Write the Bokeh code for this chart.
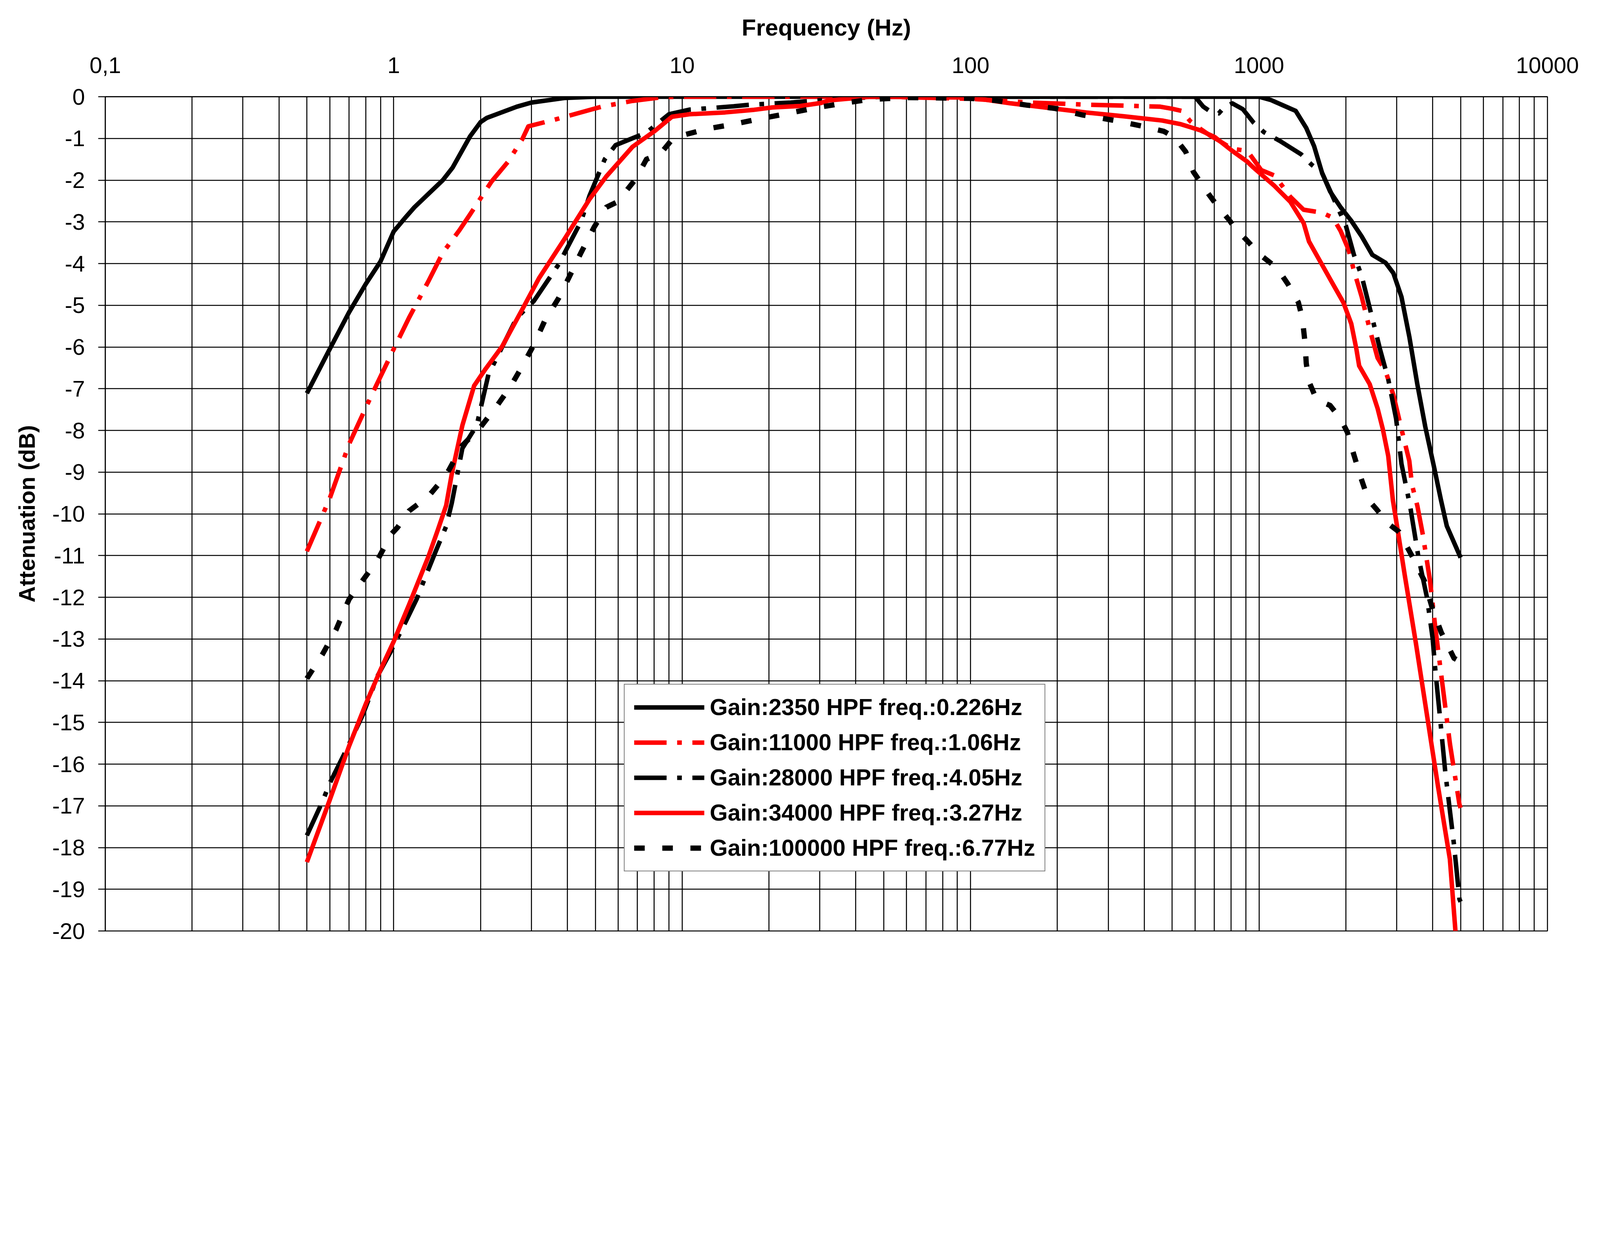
from bokeh.plotting import figure
from bokeh.models import Range1d, FixedTicker, Legend, LegendItem
from bokeh.embed import file_html
from bokeh.resources import INLINE

# ---------------- data ----------------
x_tick_values = [0.1, 1, 10, 100, 1000, 10000]
x_tick_labels = ["0,1", "1", "10", "100", "1000", "10000"]
y_tick_values = list(range(-20, 1))
y_tick_labels = [str(v) for v in y_tick_values]

series_labels = [
    "Gain:2350 HPF freq.:0.226Hz",
    "Gain:11000 HPF freq.:1.06Hz",
    "Gain:28000 HPF freq.:4.05Hz",
    "Gain:34000 HPF freq.:3.27Hz",
    "Gain:100000 HPF freq.:6.77Hz",
]

freq_2350 = [0.5, 0.6, 0.7, 0.8, 0.9, 1.0, 1.1, 1.18, 1.48, 1.6, 1.84, 2.0, 2.1, 2.67, 3.0, 3.9, 5.0,
             100, 1000, 1100, 1340, 1458, 1553, 1655, 1763, 1918, 2086, 2270, 2470, 2746, 2923,
             3118, 3319, 3538, 3770, 4056, 4274, 4477, 5000]
att_2350 = [-7.11, -6.05, -5.17, -4.49, -3.95, -3.23, -2.89, -2.65, -2.0, -1.70, -0.95, -0.61, -0.51,
            -0.24, -0.14, -0.03, 0.0, 0.0, 0.0, -0.08, -0.34, -0.75, -1.19, -1.83, -2.27, -2.65,
            -2.97, -3.35, -3.79, -3.98, -4.23, -4.8, -5.75, -6.89, -7.91, -8.92, -9.67, -10.29, -11.05]

freq_11000 = [0.5, 0.6, 0.7, 0.84, 1.0, 1.13, 1.32, 1.48, 1.69, 1.84, 2.18, 2.49, 2.79, 2.93, 3.66,
              4.28, 5.25, 6.73, 8.6, 10, 50, 100, 161, 250, 368, 455, 500, 540, 578, 623, 673, 725,
              808, 870, 916, 1018, 1132, 1284, 1428, 1655, 1803, 1918, 2042, 2133, 2270, 2417, 2576,
              2746, 2923, 3118, 3319, 3390, 3540, 3698, 3915, 4092, 4335, 4592, 4954, 5000]
att_11000 = [-10.9, -9.63, -8.33, -7.14, -6.05, -5.3, -4.42, -3.74, -3.2, -2.82, -2.04, -1.56, -1.02,
             -0.71, -0.54, -0.41, -0.24, -0.10, -0.01, 0.0, 0.0, -0.05, -0.14, -0.19, -0.22, -0.24,
             -0.29, -0.34, -0.59, -0.76, -0.92, -1.05, -1.25, -1.28, -1.32, -1.76, -1.89, -2.4,
             -2.71, -2.78, -2.9, -3.22, -3.66, -4.17, -4.8, -5.56, -6.26, -6.58, -7.15, -7.97,
             -8.73, -9.3, -9.81, -10.5, -11.6, -12.77, -14.15, -15.52, -16.97, -17.05]

freq_28000 = [0.5, 0.566, 0.6, 0.687, 0.78, 0.88, 0.97, 1.1, 1.2, 1.29, 1.4, 1.52, 1.59, 1.73, 1.94,
              2.13, 2.28, 2.67, 3.06, 3.41, 3.73, 4.46, 4.77, 5.39, 5.88, 7.52, 9.0, 10.6, 15.1, 17.3,
              23.8, 29.4, 36.3, 50, 600, 641, 683, 725, 760, 808, 879, 957, 1040, 1181, 1399, 1522,
              1655, 1803, 2000, 2133, 2270, 2470, 2631, 2805, 2987, 3118, 3340, 3573, 3823, 3998,
              4092, 4234, 4426, 4742, 4954, 5000]
att_28000 = [-17.71, -16.9, -16.46, -15.64, -14.83, -13.88, -13.34, -12.59, -12.05, -11.5, -10.89,
             -10.3, -9.74, -8.43, -7.88, -6.66, -6.25, -5.3, -4.9, -4.42, -4.02, -2.99, -2.38, -1.5,
             -1.16, -0.86, -0.42, -0.31, -0.23, -0.19, -0.14, -0.09, -0.045, 0.0, 0.0, -0.24, -0.37,
             -0.4, -0.24, -0.16, -0.3, -0.62, -0.85, -1.06, -1.38, -1.63, -1.83, -2.4, -3.09, -3.79,
             -4.3, -5.31, -6.07, -6.77, -7.72, -8.8, -9.81, -11.05, -12.01, -12.98, -13.8, -14.83,
             -16.21, -17.93, -19.24, -19.3]

freq_34000 = [0.5, 0.6, 0.7, 0.8, 0.9, 1.0, 1.13, 1.32, 1.42, 1.52, 1.59, 1.73, 1.9, 2.08, 2.38, 2.79,
              3.19, 3.92, 4.77, 5.46, 6.73, 8.04, 9.22, 10.6, 14.1, 17.6, 20.5, 25.7, 30.3, 32.2, 38,
              45, 100, 138, 187, 252, 341, 461, 536, 623, 703, 808, 908, 957, 1132, 1284, 1428, 1490,
              1621, 1803, 1960, 2088, 2178, 2224, 2419, 2576, 2687, 2805, 2911, 3052, 3199, 3500,
              3823, 4180, 4589, 4797, 5000]
att_34000 = [-18.35, -16.86, -15.57, -14.56, -13.74, -13.06, -12.18, -11.02, -10.4, -9.8, -9.04,
             -7.88, -6.93, -6.53, -5.98, -5.1, -4.35, -3.4, -2.46, -1.91, -1.2, -0.82, -0.48, -0.42,
             -0.376, -0.317, -0.258, -0.222, -0.15, -0.09, -0.045, 0.0, -0.02, -0.16, -0.27, -0.38,
             -0.47, -0.57, -0.66, -0.8, -0.97, -1.3, -1.55, -1.7, -2.14, -2.52, -3.03, -3.47, -3.92,
             -4.49, -4.93, -5.44, -6.07, -6.45, -6.89, -7.47, -7.97, -8.61, -9.67, -10.56, -11.46,
             -13.11, -14.83, -16.56, -18.28, -20.0, -20.9]

freq_100000 = [0.5, 0.566, 0.63, 0.7, 0.78, 0.88, 0.98, 1.03, 1.13, 1.32, 1.52, 1.73, 2.0, 2.28, 2.55,
               2.79, 3.06, 3.34, 3.73, 4.04, 4.46, 4.95, 5.46, 5.97, 6.89, 7.52, 8.4, 9.22, 10.1, 12.2,
               14.8, 18.6, 23.3, 29.4, 36.8, 44.1, 60, 100, 122, 156, 196, 245, 316, 396, 468, 509,
               557, 592, 668, 712, 791, 826, 898, 1009, 1156, 1259, 1369, 1413, 1443, 1458, 1490,
               1585, 1763, 1918, 2023, 2110, 2249, 2395, 2548, 2786, 3055, 3415, 3740, 3999, 4282,
               4742, 5000]
att_100000 = [-13.95, -13.37, -12.79, -12.05, -11.6, -11.1, -10.49, -10.33, -9.93, -9.58, -9.07,
              -8.36, -7.92, -7.41, -6.93, -6.46, -5.95, -5.37, -4.83, -4.35, -3.74, -3.13, -2.65,
              -2.52, -1.98, -1.5, -1.37, -1.03, -0.92, -0.77, -0.67, -0.53, -0.40, -0.26, -0.15,
              -0.07, -0.02, -0.04, -0.09, -0.2, -0.28, -0.44, -0.57, -0.71, -0.83, -0.97, -1.32,
              -1.8, -2.33, -2.59, -2.97, -3.16, -3.41, -3.79, -4.11, -4.49, -4.93, -5.31, -5.88,
              -6.39, -6.83, -7.27, -7.4, -7.72, -8.04, -8.48, -9.11, -9.67, -9.88, -10.22, -10.43,
              -11.05, -11.6, -12.29, -12.84, -13.46, -13.55]

# ---------------- figure ----------------
FONT = "Liberation Sans"
LW = 2.6  # grid / frame line width

p = figure(
    x_axis_type="log", x_axis_location="above",
    x_range=Range1d(0.1, 10000), y_range=Range1d(-20, 0),
    frame_width=3692, frame_height=2135,
    min_border_left=269, min_border_right=119, min_border_top=247, min_border_bottom=42,
    output_backend="svg", toolbar_location=None,
)
p.background_fill_color = "white"
p.border_fill_color = "white"
p.outline_line_color = "black"
p.outline_line_width = LW

# grid
decades = [0.1, 1, 10, 100, 1000]
grid_ticks = [m * d for d in decades for m in range(1, 10)] + [10000]
p.xgrid.ticker = FixedTicker(ticks=grid_ticks)
p.ygrid.ticker = FixedTicker(ticks=y_tick_values)
for g in (p.xgrid, p.ygrid):
    g.grid_line_color = "black"
    g.grid_line_width = LW
    g.grid_line_alpha = 1.0

# x axis (top)
xa = p.xaxis[0]
xa.ticker = FixedTicker(ticks=x_tick_values, minor_ticks=[])
xa.major_label_overrides = dict(zip(x_tick_values, x_tick_labels))
xa.major_tick_out = 0
xa.major_tick_in = 0
xa.minor_tick_out = 0
xa.minor_tick_in = 0
xa.axis_line_color = "black"
xa.axis_line_width = LW
xa.major_label_text_font = FONT
xa.major_label_text_font_size = "58px"
xa.major_label_text_color = "black"
xa.major_label_standoff = 61
xa.axis_label = "Frequency (Hz)"
xa.axis_label_text_font = FONT
xa.axis_label_text_font_size = "60px"
xa.axis_label_text_font_style = "bold"
xa.axis_label_text_color = "black"
xa.axis_label_standoff = 40

# y axis
ya = p.yaxis[0]
ya.ticker = FixedTicker(ticks=y_tick_values, minor_ticks=[])
ya.major_label_overrides = dict(zip(y_tick_values, y_tick_labels))
ya.major_tick_out = 18
ya.major_tick_in = 0
ya.minor_tick_out = 0
ya.minor_tick_in = 0
ya.major_tick_line_width = LW
ya.axis_line_color = "black"
ya.axis_line_width = LW
ya.major_label_text_font = FONT
ya.major_label_text_font_size = "58px"
ya.major_label_text_color = "black"
ya.major_label_standoff = 34
ya.axis_label = "Attenuation (dB)"
ya.axis_label_text_font = FONT
ya.axis_label_text_font_size = "58px"
ya.axis_label_text_font_style = "bold"
ya.axis_label_text_color = "black"
ya.axis_label_standoff = 30

# series
dashdot = "83 27 12 27"
styles = [
    dict(color="black", dash="solid", width=11.5),
    dict(color="#ff0000", dash=dashdot, width=11.5),
    dict(color="black", dash=dashdot, width=11.5),
    dict(color="#ff0000", dash="solid", width=11.5),
    dict(color="black", dash="27 45", width=13.5),
]
series = [
    (freq_2350, att_2350),
    (freq_11000, att_11000),
    (freq_28000, att_28000),
    (freq_34000, att_34000),
    (freq_100000, att_100000),
]

items = []
for (fx, ay), st, lab in zip(series, styles, series_labels):
    r = p.line(fx, ay, line_color=st["color"], line_width=st["width"],
               line_dash=st["dash"], line_join="round", line_cap="butt")
    items.append(LegendItem(label=lab, renderers=[r]))

legend = Legend(
    items=items,
    location=(1328, 152),
    orientation="vertical",
    background_fill_color="white",
    background_fill_alpha=1.0,
    border_line_color="black",
    border_line_width=LW,
    label_text_font=FONT,
    label_text_font_size="59px",
    label_text_font_style="bold",
    label_text_color="black",
    glyph_width=180,
    glyph_height=68,
    label_height=68,
    label_standoff=14,
    spacing=22,
    padding=24,
    margin=0,
)
p.add_layout(legend)

open("out.html", "w").write(file_html(p, INLINE))
